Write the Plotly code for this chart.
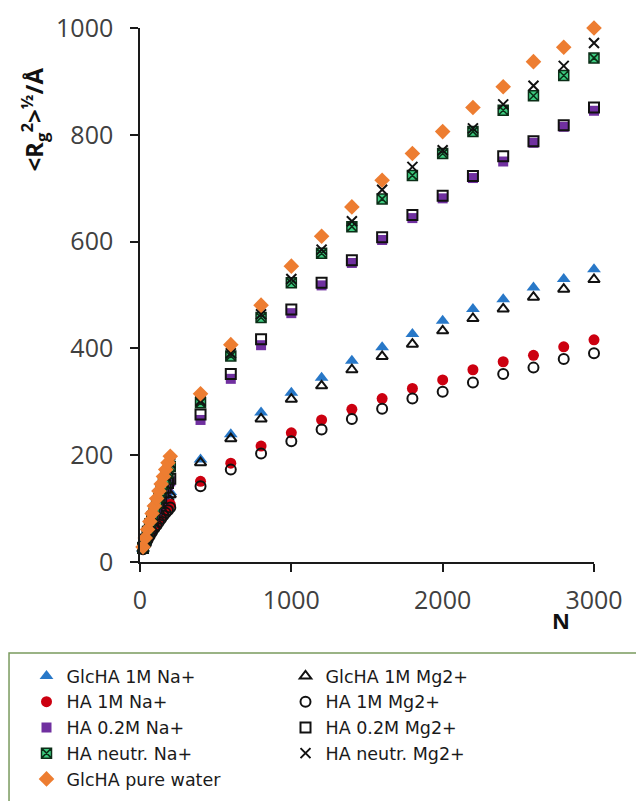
import plotly.graph_objects as go

# Chain length N
N_low = [20, 35, 50, 65, 80, 95, 110, 125, 140, 155, 170, 185, 200]
N_main = [400, 600, 800, 1000, 1200, 1400, 1600, 1800, 2000, 2200, 2400, 2600, 2800, 3000]

# <Rg^2>^1/2 in Angstrom, low-N cluster then main points
glcha_1m_na_low = [25, 37, 48, 58, 68, 77, 86, 94, 102, 110, 117, 124, 131]
glcha_1m_na = [192, 239, 280, 317, 345, 377, 402, 427, 452, 474, 492, 514, 530, 548]
glcha_1m_mg_low = [25, 36, 47, 57, 66, 75, 83, 91, 99, 106, 113, 120, 126]
glcha_1m_mg = [186, 231, 268, 305, 330, 360, 385, 408, 433, 456, 474, 496, 511, 529]
ha_1m_na_low = [24, 34, 43, 51, 59, 66, 73, 80, 86, 92, 98, 103, 108]
ha_1m_na = [151, 185, 217, 242, 266, 286, 306, 325, 341, 360, 375, 387, 403, 416]
ha_1m_mg_low = [24, 33, 41, 49, 56, 63, 69, 75, 81, 87, 92, 97, 102]
ha_1m_mg = [142, 173, 203, 226, 248, 268, 287, 306, 319, 336, 352, 364, 380, 391]
ha_02m_na_low = [26, 39, 52, 64, 76, 87, 97, 107, 117, 126, 135, 143, 151]
ha_02m_na = [266, 343, 406, 466, 518, 560, 603, 644, 681, 719, 750, 785, 815, 845]
ha_02m_mg_low = [26, 40, 53, 66, 78, 89, 100, 110, 120, 130, 139, 148, 156]
ha_02m_mg = [276, 352, 417, 473, 523, 565, 608, 650, 686, 723, 760, 788, 818, 851]
ha_neutr_na_low = [27, 42, 57, 71, 84, 97, 110, 122, 134, 146, 157, 168, 179]
ha_neutr_na = [298, 386, 458, 523, 578, 628, 680, 724, 765, 806, 846, 873, 911, 944]
ha_neutr_mg_low = [27, 43, 58, 72, 86, 99, 112, 125, 137, 149, 161, 173, 185]
ha_neutr_mg = [302, 391, 464, 530, 585, 638, 697, 740, 771, 812, 857, 892, 929, 972]
glcha_water_low = [28, 45, 61, 76, 91, 105, 119, 133, 146, 160, 173, 186, 198]
glcha_water = [315, 407, 481, 554, 610, 665, 715, 765, 806, 851, 890, 937, 964, 1000]

x_ticks = [0, 1000, 2000, 3000]
y_ticks = [0, 200, 400, 600, 800, 1000]

series = [
    ("GlcHA 1M Na+", glcha_1m_na_low + glcha_1m_na,
     dict(symbol="triangle-up", color="#2878C8", size=12, line=dict(width=0))),
    ("GlcHA 1M Mg2+", glcha_1m_mg_low + glcha_1m_mg,
     dict(symbol="triangle-up-open", color="#111111", size=10, line=dict(width=2, color="#111111"))),
    ("HA 1M Na+", ha_1m_na_low + ha_1m_na,
     dict(symbol="circle", color="#CC0010", size=11, line=dict(width=0))),
    ("HA 1M Mg2+", ha_1m_mg_low + ha_1m_mg,
     dict(symbol="circle-open", color="#111111", size=10, line=dict(width=2, color="#111111"))),
    ("HA 0.2M Na+", ha_02m_na_low + ha_02m_na,
     dict(symbol="square", color="#7030A0", size=10, line=dict(width=0))),
    ("HA 0.2M Mg2+", ha_02m_mg_low + ha_02m_mg,
     dict(symbol="square-open", color="#111111", size=10, line=dict(width=2, color="#111111"))),
    ("HA neutr. Na+", ha_neutr_na_low + ha_neutr_na,
     dict(symbol="square-x", color="#3CCB7F", size=10, line=dict(width=1.5, color="#0B2E17"))),
    ("HA neutr. Mg2+", ha_neutr_mg_low + ha_neutr_mg,
     dict(symbol="x-thin-open", color="#111111", size=10, line=dict(width=2, color="#111111"))),
    ("GlcHA pure water", glcha_water_low + glcha_water,
     dict(symbol="diamond", color="#ED7D31", size=12, line=dict(width=0))),
]

N_all = N_low + N_main
fig = go.Figure()
for name, vals, mk in series:
    fig.add_trace(go.Scatter(x=N_all, y=vals, mode="markers", name=name,
                             marker=mk, cliponaxis=False))

font_family = "Open Sans, Lato, DejaVu Sans, sans-serif"
legend_family = "DejaVu Sans, Open Sans, sans-serif"
axis_common = dict(showgrid=False, zeroline=False, showline=True, linecolor="#1a1a1a",
                   linewidth=1.5, ticks="outside", ticklen=8, tickwidth=1.5,
                   tickcolor="#1a1a1a",
                   tickfont=dict(family=font_family, size=25, color="#404040"))

fig.update_layout(
    width=636, height=793,
    margin=dict(l=132, r=50, t=20, b=239, autoexpand=False),
    paper_bgcolor="white", plot_bgcolor="white",
    font=dict(family=font_family),
    xaxis=dict(range=[0, 3000], tickvals=x_ticks, ticklabelstandoff=7, **axis_common),
    yaxis=dict(range=[0, 1000], tickvals=y_ticks, ticklabelstandoff=12, **axis_common),
    showlegend=True,
    legend=dict(orientation="h", x=-0.25, y=-0.1798, xanchor="left", yanchor="top",
                entrywidth=214, entrywidthmode="pixels", traceorder="normal",
                font=dict(family=legend_family, size=17.5, color="#1a1a1a"),
                bgcolor="rgba(0,0,0,0)", itemwidth=30),
    shapes=[dict(type="rect", xref="paper", yref="paper",
                 x0=-0.2885, x1=1.2, y0=-0.1704, y1=-0.6,
                 line=dict(color="#7A9A5E", width=1.5), layer="below")],
    annotations=[
        dict(text="<b>&lt;R<sub>g</sub><sup>2</sup>&gt;<sup>½</sup>/Å</b>",
             xref="paper", yref="paper", x=-0.234, y=0.828, textangle=-90,
             showarrow=False, xanchor="center", yanchor="middle",
             font=dict(family=font_family, size=24, color="#111111")),
        dict(text="<b>N</b>", xref="paper", yref="paper", x=0.927, y=-0.1086,
             showarrow=False, xanchor="center", yanchor="middle",
             font=dict(family=font_family, size=22, color="#111111")),
    ],
)

fig.write_html("out.html")
